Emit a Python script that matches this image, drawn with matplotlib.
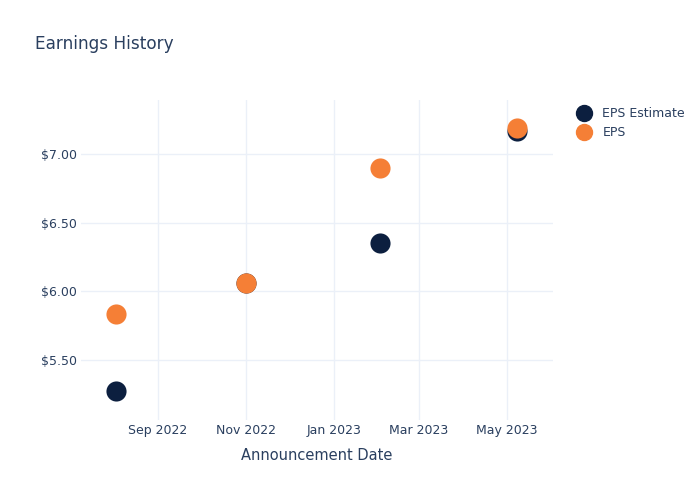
import pandas as pd
import matplotlib.pyplot as plt
import matplotlib.dates as mdates
from matplotlib.ticker import FuncFormatter
from matplotlib.lines import Line2D

# données
dates = pd.to_datetime(["2022-08-03", "2022-11-01", "2023-02-02", "2023-05-08"])
eps_estimate = [5.27, 6.06, 6.35, 7.17]
eps_actual = [5.83, 6.06, 6.90, 7.19]

navy = "#0c1f3f"
orange = "#f57f36"
text_col = "#2a3f5f"
grid_col = "#ebf0f8"

plt.rcParams["font.family"] = "DejaVu Sans"

fig = plt.figure(figsize=(7, 5), dpi=100)
ax = fig.add_axes([81 / 700, 0.16, (553 - 81) / 700, 0.64])

ax.scatter(dates, eps_estimate, s=210, color=navy, zorder=3, linewidths=0)
ax.scatter(dates, eps_actual, s=210, color=orange, zorder=4, linewidths=0)

ax.set_xlim(pd.Timestamp("2022-07-10"), pd.Timestamp("2023-06-02"))
ax.set_ylim(5.059, 7.397)

ax.xaxis.set_major_locator(mdates.MonthLocator(bymonth=[1, 3, 5, 9, 11]))
ax.xaxis.set_major_formatter(mdates.DateFormatter("%b %Y"))
ax.set_yticks([5.5, 6.0, 6.5, 7.0])
ax.yaxis.set_major_formatter(FuncFormatter(lambda v, p: f"${v:.2f}"))

ax.grid(True, color=grid_col, linewidth=1)
ax.set_axisbelow(True)
for s in ax.spines.values():
    s.set_visible(False)
ax.tick_params(length=0, colors=text_col, labelsize=9)
ax.tick_params(axis="x", pad=3)
ax.tick_params(axis="y", pad=3)

ax.set_xlabel("Announcement Date", color=text_col, fontsize=10.5, labelpad=8)
fig.text(35 / 700, 1 - 44 / 500, "Earnings History", color=text_col,
         fontsize=12.2, va="center", ha="left")

handles = [
    Line2D([], [], marker="o", linestyle="", markersize=11.5, color=navy, label="EPS Estimate"),
    Line2D([], [], marker="o", linestyle="", markersize=11.5, color=orange, label="EPS"),
]
leg = fig.legend(handles=handles, loc="upper left", bbox_to_anchor=(571 / 700, 1 - 102 / 500),
                 frameon=False, fontsize=9, handletextpad=0.9, labelspacing=0.5,
                 borderaxespad=0, handlelength=1.2)
for t in leg.get_texts():
    t.set_color(text_col)

fig.savefig("out.png", dpi=100)
